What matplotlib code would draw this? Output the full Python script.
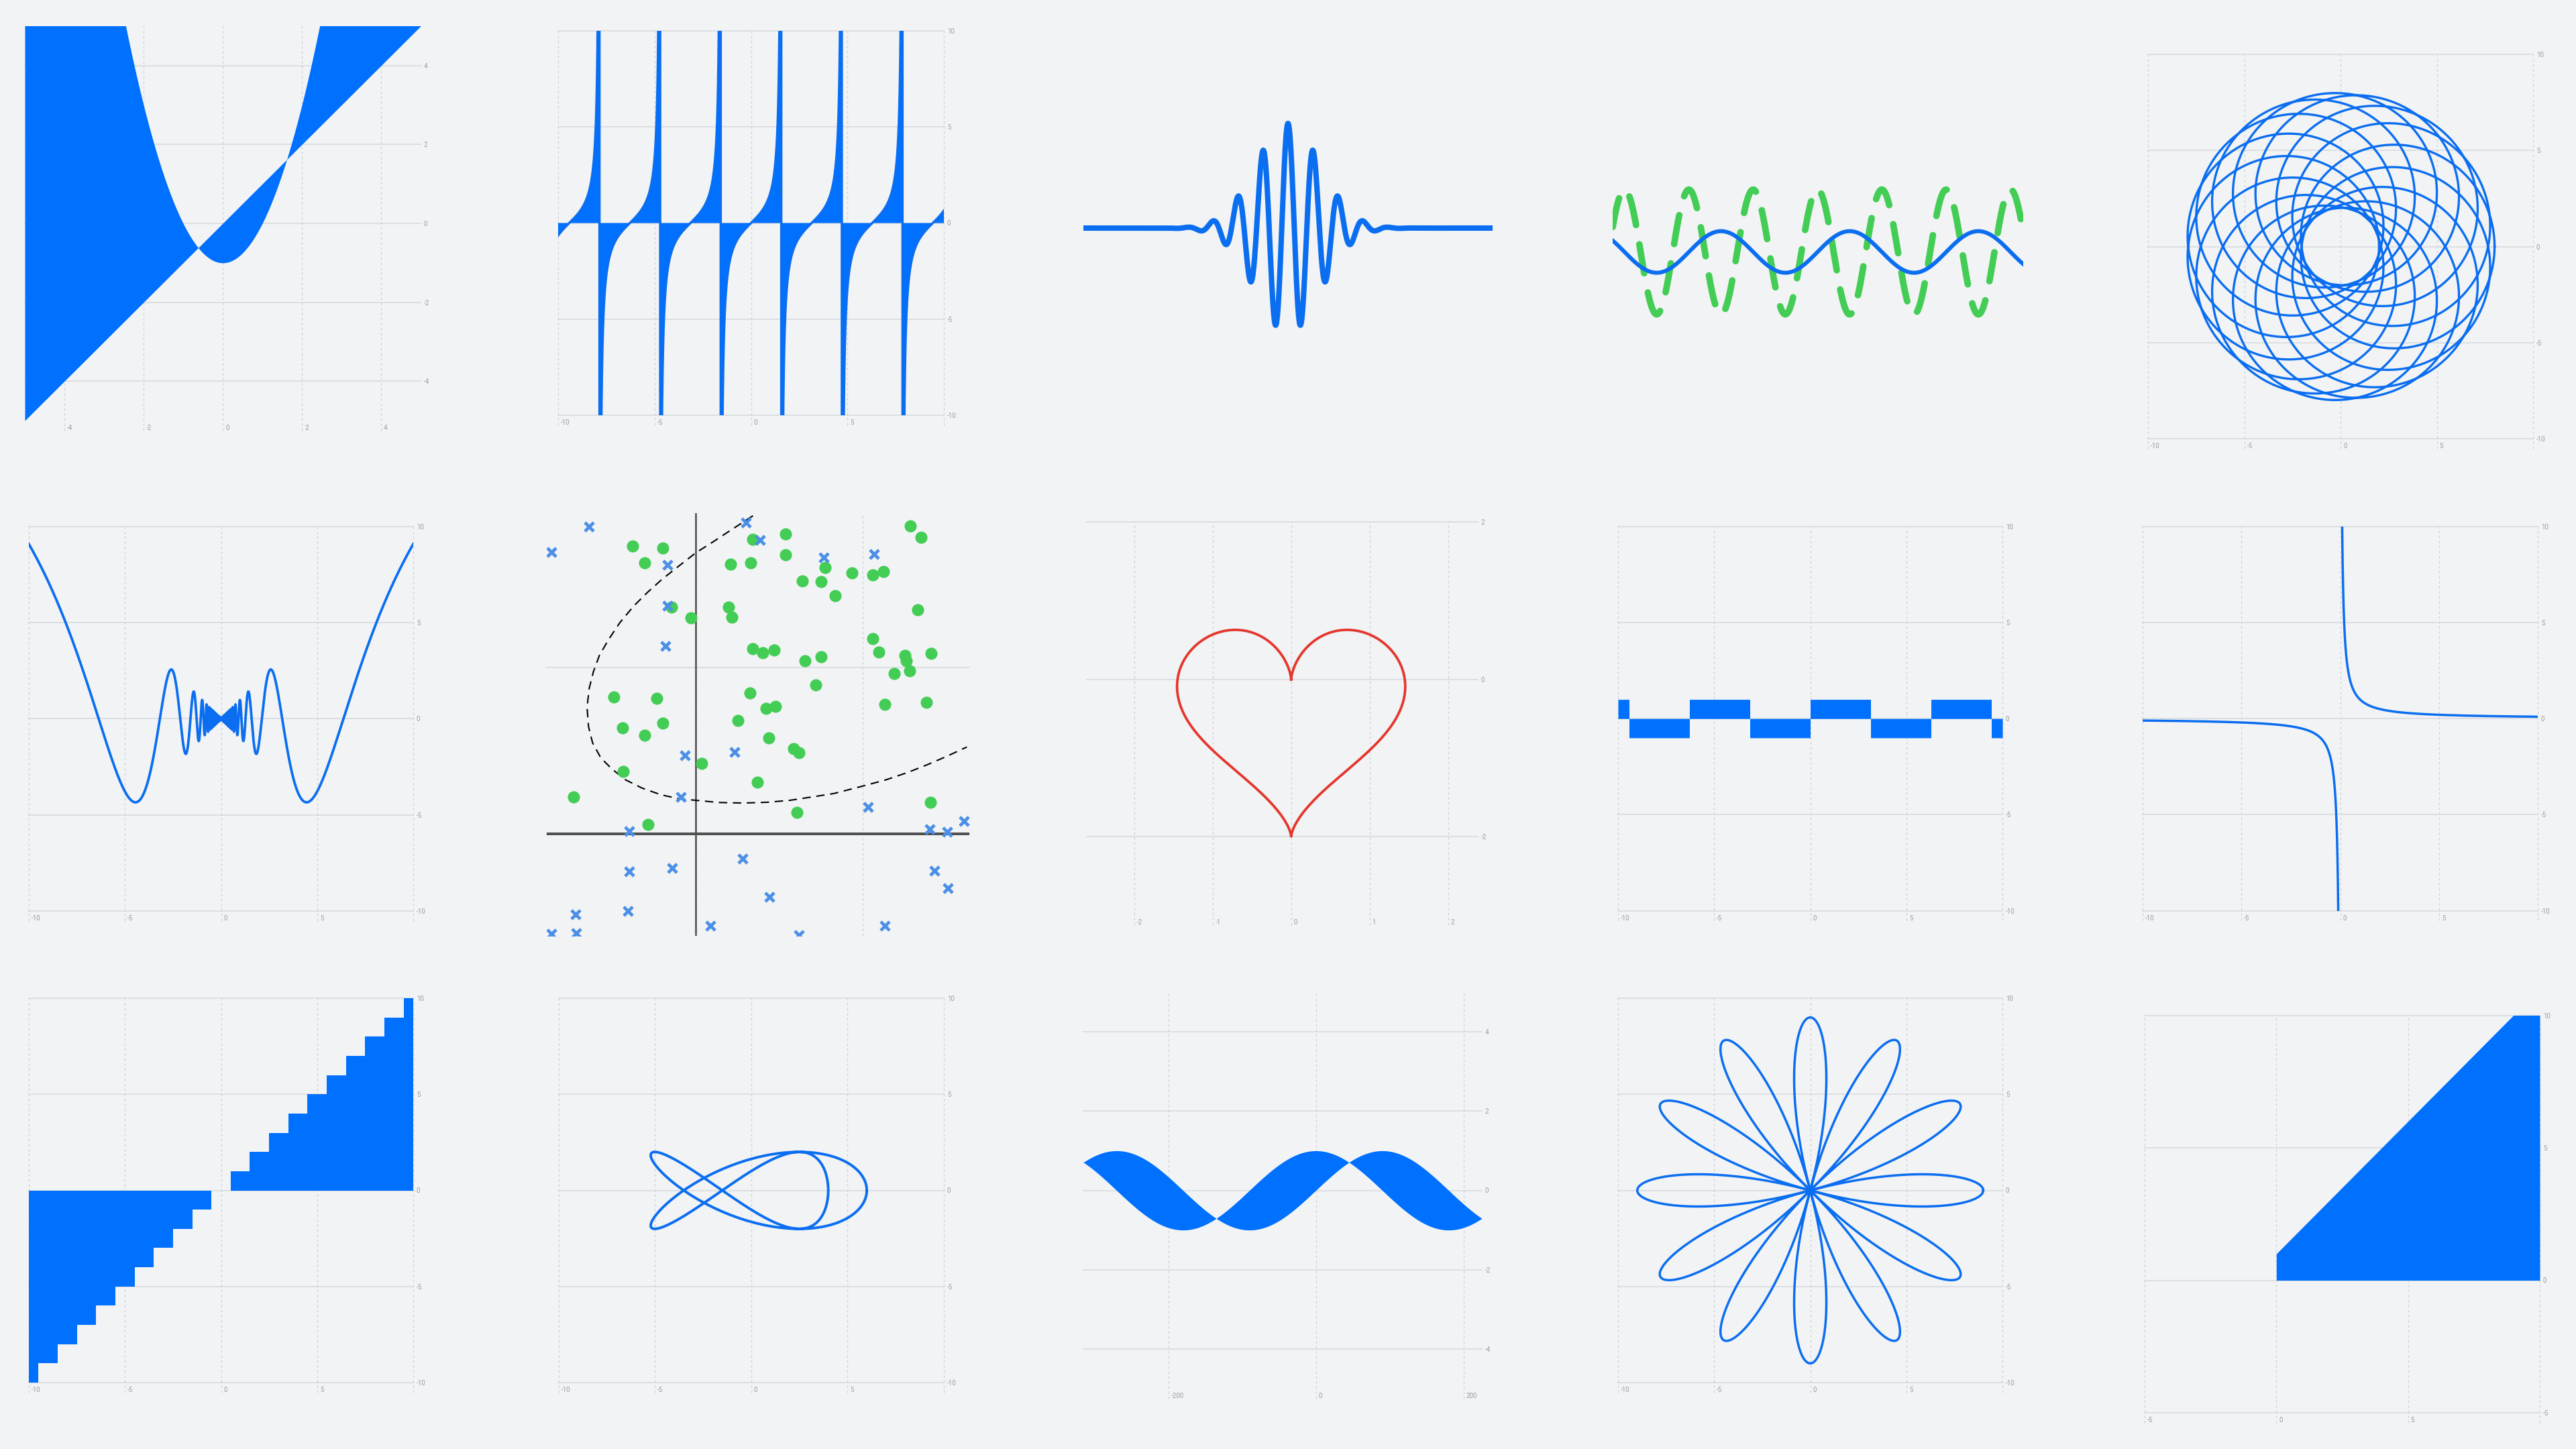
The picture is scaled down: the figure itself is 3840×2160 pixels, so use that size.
import numpy as np
import matplotlib.pyplot as plt
from matplotlib import transforms

plt.rcParams['font.family'] = ['Roboto', 'DejaVu Sans']

BG = '#f1f3f5'
BLUE = '#0070ff'
LINE = '#0b6ef0'
GREEN = '#43cd55'
XBLUE = '#4b8fe6'
RED = '#e5362c'
GRID = '#dcdfe2'
VGRID = '#d0d3d7'
LABEL = '#9b9b9b'

# ---- data / parameters ----
band_range = [-5, 5]             # parabola x^2-1 against the line y=x
tan_range = [-10, 10]
wave_range = [-8.15, 8.15]       # gaussian wave packet
wave_decay = 0.3
sine_phase = [-2.15, 17.9]       # blue sine and green dashed sine
sine_amp = [1, 3]
spiro_radii = [3, 5]             # slow / fast circle
spiro_speed = [1, 16]
wiggle_k = 20                    # x*sin(k/x)
heart_coef = [13, 5, 2, 1]
fish_coef = [5, 1, 2]
rose_r, rose_k = 9, 6
step_x = list(range(-10, 11))
step_y = list(range(-10, 11))
phase_deg = [-315, 225]
ramp_x = [0, 10]
ramp_top = [1, 11]

# scatter panel (green = class 1, blue x = class 0)
green_x = [-0.763, -0.401, -0.615, 1.072, 0.684, 1.072, 0.418, 0.658, 2.569, 2.701,
           1.549, 1.872, 2.122, 2.247, 1.273, 1.503, 1.671, -0.293, -0.059, 0.388,
           0.431, 2.658, 2.118, 0.678, 0.803, 0.941, 1.306, 1.500, 2.197, 2.510,
           2.526, 2.822, 2.382, 2.566, 1.441, -0.984, -0.467, 0.645, 0.842, 0.957,
           2.270, 2.763, 0.507, -0.882, -0.398, -0.612, 0.875, 1.168, 1.234, 0.069,
           -0.875, 0.737, -1.470, 2.813, 1.214, -0.572]
green_y = [3.466, 3.440, 3.259, 3.608, 3.542, 3.361, 3.242, 3.265, 3.707, 3.568,
           3.209, 3.143, 3.117, 3.157, 3.044, 3.038, 2.863, 2.725, 2.603, 2.731,
           2.606, 2.699, 2.346, 2.224, 2.181, 2.214, 2.082, 2.132, 2.191, 2.148,
           2.082, 2.171, 1.931, 1.960, 1.789, 1.647, 1.631, 1.694, 1.512, 1.535,
           1.555, 1.585, 1.361, 1.275, 1.328, 1.189, 1.153, 1.028, 0.972, 0.843,
           0.748, 0.619, 0.445, 0.379, 0.257, 0.109]
blue_x = [-1.286, -1.737, -0.339, 0.602, 0.773, 1.530, 2.135, -0.345, -0.365, -0.132,
          0.467, -0.184, 2.063, 3.217, 2.803, 3.013, -0.803, 0.556, -0.803, -0.283,
          2.865, 3.020, 0.885, -1.447, -0.813, 0.174, 2.270, -1.737, -1.438, 1.237]
blue_y = [3.697, 3.390, 3.239, 3.746, 3.539, 3.328, 3.364, 2.748, 2.260, 0.946,
          0.985, 0.445, 0.323, 0.155, 0.053, 0.020, 0.030, -0.297, -0.455, -0.418,
          -0.448, -0.656, -0.764, -0.972, -0.932, -1.107, -1.107, -1.206, -1.196, -1.222]
bound_x = [0.684, 0.405, 0.207, 0.0, -0.253, -0.418, -0.582, -0.747, -0.911, -1.043,
           -1.158, -1.230, -1.280, -1.306, -1.289, -1.240, -1.141, -1.010, -0.845, -0.648,
           -0.418, -0.188, 0.0, 0.273, 0.569, 0.865, 1.128, 1.391, 1.655, 2.0,
           2.280, 2.543, 2.773, 3.003, 3.25]
bound_y = [3.829, 3.647, 3.516, 3.384, 3.186, 3.054, 2.906, 2.741, 2.544, 2.346,
           2.148, 1.951, 1.753, 1.522, 1.292, 1.094, 0.913, 0.781, 0.649, 0.550,
           0.468, 0.418, 0.402, 0.376, 0.369, 0.379, 0.402, 0.442, 0.484, 0.573,
           0.649, 0.738, 0.830, 0.929, 1.044]

fig = plt.figure(figsize=(38.4, 21.6), dpi=100, facecolor=BG)


def box(l, r, t, b):
    return [l / 3840, 1 - b / 2160, (r - l) / 3840, (b - t) / 2160]


def style(ax, xlim, ylim, xt, yt, labels=True, ext=0.026):
    ax.set_facecolor('none')
    for s in ax.spines.values():
        s.set_visible(False)
    for v in yt:
        ax.axhline(v, color=GRID, lw=1.4, zorder=0, clip_on=False)
    for v in xt:
        ax.axvline(v, ymin=-ext, ymax=1, color=VGRID, lw=0.9, ls=(0, (3, 3)),
                   zorder=0, clip_on=False)
    ax.set_xlim(xlim)
    ax.set_ylim(ylim)
    ax.set_xticks(xt)
    ax.set_yticks(yt)
    ax.yaxis.tick_right()
    if labels:
        xl = [str(v) for v in xt]
        if xt[-1] >= xlim[1]:
            xl[-1] = ''
        ax.set_xticklabels(xl)
        ax.set_yticklabels([str(v) for v in yt])
    else:
        ax.set_xticklabels([])
        ax.set_yticklabels([])
    ax.tick_params(length=0, labelsize=7, labelcolor=LABEL)
    ax.tick_params(axis='x', pad=4.5)
    ax.tick_params(axis='y', pad=3.5)
    off = transforms.ScaledTranslation(4 / 100, 0, fig.dpi_scale_trans)
    for lab in ax.get_xticklabels():
        lab.set_ha('left')
        lab.set_transform(lab.get_transform() + off)


ten = [-10, -5, 0, 5, 10]

# row 1 ---------------------------------------------------------------
ax = fig.add_axes(box(37, 627, 39, 627))
x = np.linspace(band_range[0], band_range[1], 1201)
ax.fill_between(x, x**2 - 1, x, color=BLUE, lw=0)
style(ax, band_range, band_range, [-4, -2, 0, 2, 4], [-4, -2, 0, 2, 4])

ax = fig.add_axes(box(832, 1407, 46, 619))
x = np.linspace(tan_range[0], tan_range[1], 6000)
ax.fill_between(x, np.tan(x), 0, color=BLUE, lw=0)
ax.plot(x, np.tan(x), color=LINE, lw=2.5)
style(ax, tan_range, tan_range, ten, ten)

ax = fig.add_axes(box(1615, 2225, 28, 652))
x = np.linspace(wave_range[0], wave_range[1], 4000)
ax.plot(x, np.cos(2 * np.pi * x) * np.exp(-wave_decay * x**2), color=LINE, lw=5.8,
        solid_capstyle='butt')
ax.set_xlim(wave_range)
ax.set_ylim(-2, 2)
ax.axis('off')

ax = fig.add_axes(box(2404, 3016, 65.6, 685.6))
t = np.linspace(sine_phase[0], sine_phase[1], 2000)
ax.plot(t, -sine_amp[1] * np.cos(2 * t), color=GREEN, lw=7, ls=(0, (4.5, 3)),
        dash_capstyle='round')
ax.plot(t, -sine_amp[0] * np.cos(t), color=LINE, lw=4.3)
ax.set_xlim(sine_phase)
ax.set_ylim(-10, 10)
ax.axis('off')

ax = fig.add_axes(box(3202, 3776, 81, 654))
t = np.linspace(0, 2 * np.pi, 6000)
z = spiro_radii[0] * np.exp(1j * spiro_speed[0] * t) + spiro_radii[1] * np.exp(1j * spiro_speed[1] * t)
ax.plot(z.real, z.imag, color=LINE, lw=2.4)
style(ax, [-10, 10], [-10, 10], ten, ten)

# row 2 ---------------------------------------------------------------
ax = fig.add_axes(box(43, 616, 785, 1358))
x = np.linspace(-10, 10, 40000)
ax.plot(x, x * np.sin(wiggle_k / x), color=LINE, lw=2.7)
style(ax, [-10, 10], [-10, 10], ten, ten)

ax = fig.add_axes(box(815, 1445, 765, 1395))
ax.axvline(0, color='#4a4a4a', lw=1.8, zorder=2)
ax.axhline(0, color='#505050', lw=2.9, zorder=2)
ax.plot(bound_x, bound_y, color='black', lw=1.5, dashes=(6, 4), zorder=3)
ax.scatter(green_x, green_y, s=170, color=GREEN, lw=0, zorder=4)
ax.scatter(blue_x, blue_y, s=90, marker='x', color=XBLUE, linewidths=3.4, zorder=4)
style(ax, [-1.79, 3.28], [-1.23, 3.86], [0, 2], [0, 2], labels=False, ext=0)

ax = fig.add_axes(box(1619.5, 2203, 778.4, 1364))
t = np.linspace(0, 2 * np.pi, 2000)
a, b, c, d = heart_coef
hx = 16 * np.sin(t)**3 / 11
hy = (a * np.cos(t) - b * np.cos(2 * t) - c * np.cos(3 * t) - d * np.cos(4 * t) - 5) / 11
ax.plot(hx, hy, color=RED, lw=2.7)
style(ax, [-2.61, 2.38], [-3, 2], [-2, -1, 0, 1, 2], [-2, 0, 2])

ax = fig.add_axes(box(2412, 2985, 785, 1357.5))
x = np.linspace(-10, 10, 12000)
ax.fill_between(x, 0, np.sign(np.sin(x)), color=BLUE, lw=0)
style(ax, [-10, 10], [-10, 10], ten, ten)

ax = fig.add_axes(box(3194, 3783, 785, 1357.5))
xn = np.linspace(-10, -0.08, 3000)
xp = np.linspace(0.08, 10, 3000)
ax.plot(xn, 1 / xn, color=LINE, lw=2.5)
ax.plot(xp, 1 / xp, color=LINE, lw=2.5)
style(ax, [-10, 10], [-10, 10], ten, ten)

# row 3 ---------------------------------------------------------------
ax = fig.add_axes(box(43, 616, 1488, 2061))
ax.fill_between(step_x, 0, step_y, step='mid', color=BLUE, lw=0)
style(ax, [-10, 10], [-10, 10], ten, ten)

ax = fig.add_axes(box(832.5, 1407, 1488, 2061))
t = np.linspace(0, 2 * np.pi, 3000)
ax.plot(fish_coef[0] * np.cos(2 * t) + fish_coef[1] * np.cos(3 * t),
        fish_coef[2] * np.sin(3 * t), color=LINE, lw=2.8)
style(ax, [-10, 10], [-10, 10], ten, ten)

ax = fig.add_axes(box(1615, 2209, 1479, 2070))
deg = np.linspace(phase_deg[0], phase_deg[1], 2000)
ax.fill_between(deg, np.sin(np.radians(deg)), np.cos(np.radians(deg)), color=BLUE, lw=0)
style(ax, phase_deg, [-5, 5], [-200, 0, 200], [-4, -2, 0, 2, 4])

ax = fig.add_axes(box(2412, 2985, 1488, 2061))
th = np.linspace(0, 2 * np.pi, 6000)
r = rose_r * np.cos(rose_k * th)
ax.plot(r * np.cos(th), r * np.sin(th), color=LINE, lw=2.5)
style(ax, [-10, 10], [-10, 10], ten, ten)

ax = fig.add_axes(box(3197, 3786, 1513.5, 2106))
ax.fill_between(ramp_x, 0, ramp_top, color=BLUE, lw=0)
style(ax, [-5, 10], [-5, 10], [-5, 0, 5, 10], [-5, 0, 5, 10])

fig.savefig('out.png', dpi=100, facecolor=BG)
